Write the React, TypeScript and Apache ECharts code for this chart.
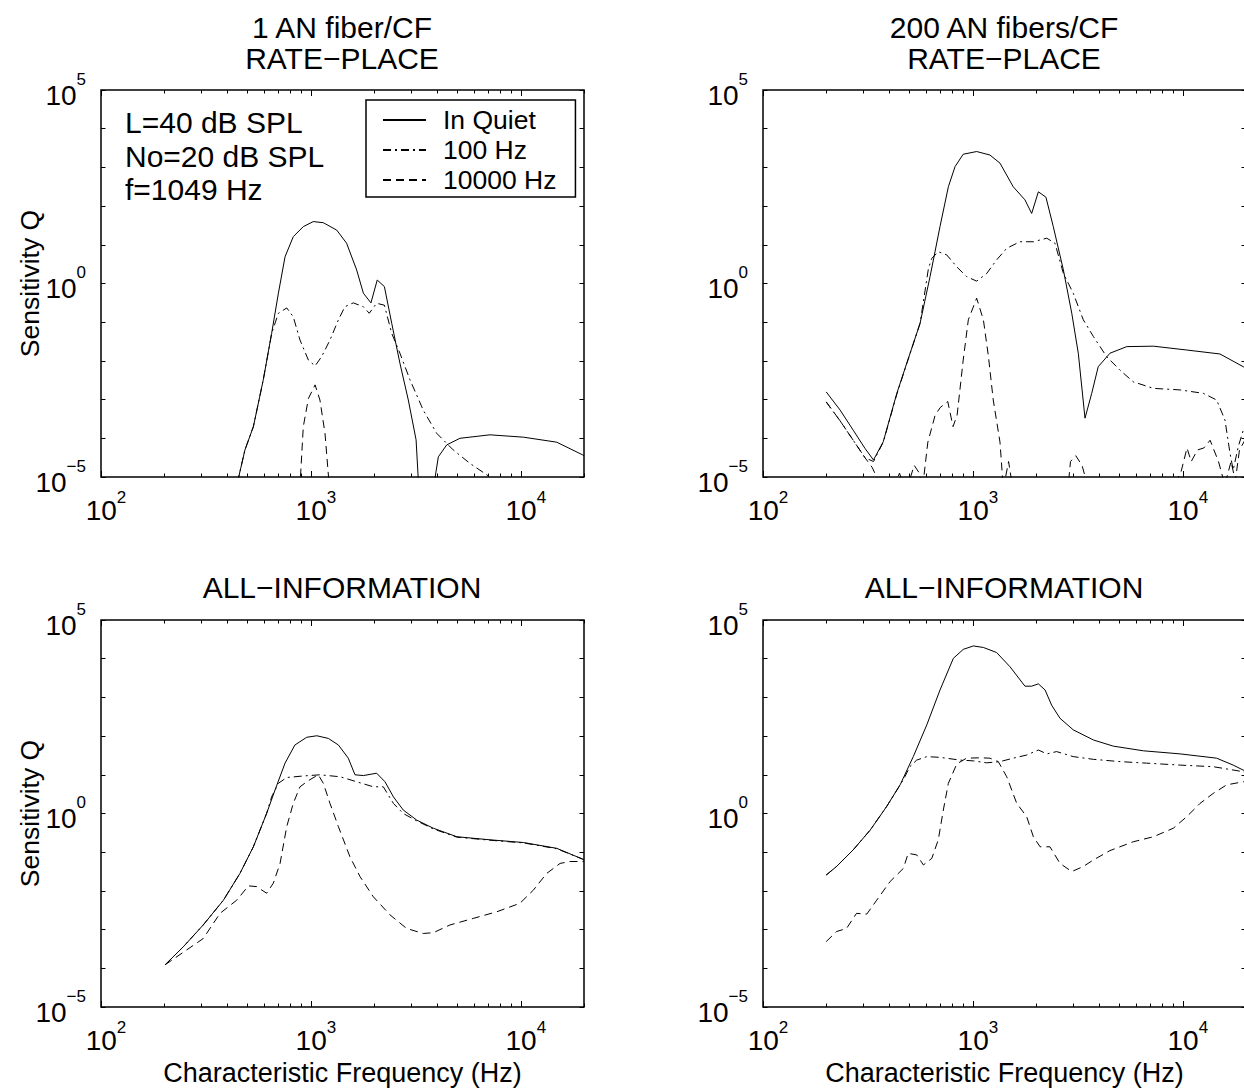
import React, { useEffect, useRef } from "react";
import * as echarts from "echarts";

const FONT = "'Liberation Sans', Arial, Helvetica, sans-serif";

// ---- texts ----
const panelTitles = ["1 AN fiber/CF\nRATE−PLACE", "200 AN fibers/CF\nRATE−PLACE", "ALL−INFORMATION", "ALL−INFORMATION"];
const legendNames = ["In Quiet", "100 Hz", "10000 Hz"];
const annotationLines = ["L=40 dB SPL", "No=20 dB SPL", "f=1049 Hz"];
const xAxisTitle = "Characteristic Frequency (Hz)";
const yAxisTitle = "Sensitivity Q";

// ---- ticks ----
const xMajorTicks = [100, 1000, 10000];
const xMinorTicks = [200, 300, 400, 500, 600, 700, 800, 900, 2000, 3000, 4000, 5000, 6000, 7000, 8000, 9000, 20000];
const yTicks = [1e-5, 1e-4, 1e-3, 1e-2, 1e-1, 1, 10, 100, 1000, 1e4, 1e5];
const yLabelTicks = [1e-5, 1, 1e5];

// ---- data: [characteristic frequency (Hz), sensitivity Q] ----
// Top-left: RATE-PLACE, 1 AN fiber/CF
const rateOneQuiet = [
  [427, 2.5e-6], [485, 5.0e-5], [532, 2.0e-4], [593, 3.24e-3], [650, 5.13e-2], [700, 0.562], [753, 4.9],
  [824, 16.2], [920, 29.5], [1026, 39.8], [1146, 37.2], [1327, 24.0], [1479, 11.0], [1652, 2.24], [1778, 0.562],
  [1932, 0.316], [2070, 1.23], [2239, 0.832], [2427, 9.33e-2], [2655, 8.71e-3], [2911, 9.77e-4], [3170, 9.12e-5],
  [3400, 1e-7], [3660, 1e-6], [4046, 3.31e-5], [4436, 6.76e-5], [5129, 1.0e-4], [7129, 1.23e-4], [10280, 1.07e-4],
  [14825, 7.94e-5], [19724, 3.72e-5], [20000, 3.5e-5],
];
const rateOneNoise100 = [
  [427, 2.5e-6], [485, 5.0e-5], [532, 2.0e-4], [593, 3.24e-3], [650, 5.13e-2], [700, 0.17], [767, 0.234],
  [824, 0.138], [887, 3.47e-2], [973, 1.05e-2], [1047, 7.41e-3], [1125, 1.29e-2], [1233, 3.47e-2], [1352, 0.115],
  [1452, 0.251], [1592, 0.316], [1778, 0.251], [1897, 0.17], [2056, 0.309], [2239, 0.275], [2427, 5.13e-2],
  [2655, 1.58e-2], [2965, 3.24e-3], [3428, 5.37e-4], [3972, 1.35e-4], [4764, 5.01e-5], [5728, 2.24e-5],
  [7129, 1.0e-5], [10000, 2e-6], [20000, 1e-7],
];
const rateOneNoise10k = [
  [850, 1e-7], [920, 2.0e-4], [973, 1.07e-3], [1047, 2.4e-3], [1104, 9.77e-4], [1167, 1.35e-4], [1300, 1e-7],
];

// Top-right: RATE-PLACE, 200 AN fibers/CF
const rateManyQuiet = [
  [200, 1.58e-3], [233, 5.37e-4], [269, 1.62e-4], [306, 5.5e-5], [336, 2.75e-5], [374, 8.13e-5], [434, 1.45e-3],
  [484, 8.71e-3], [560, 9.33e-2], [625, 1.51], [697, 29.5], [764, 316], [822, 1047], [899, 2188], [1042, 2570],
  [1205, 2089], [1346, 1288], [1556, 316], [1770, 145], [1905, 64.6], [2051, 234], [2228, 170], [2415, 29.5],
  [2698, 2.24], [2958, 0.17], [3177, 1.58e-2], [3420, 3.31e-4], [3681, 1.45e-3], [3954, 7.08e-3], [4498, 1.58e-2],
  [5408, 2.34e-2], [7244, 2.4e-2], [10447, 1.91e-2], [15031, 1.51e-2], [19409, 7.08e-3], [20000, 6.3e-3],
];
const rateManyNoise100 = [
  [200, 8.71e-4], [233, 2.82e-4], [269, 8.91e-5], [306, 3.16e-5], [336, 2.51e-5], [374, 7.94e-5], [434, 1.38e-3],
  [484, 8.51e-3], [560, 9.33e-2], [614, 2.45], [637, 4.47], [684, 6.61], [750, 5.5], [838, 2.69], [933, 1.51],
  [1042, 1.15], [1164, 1.82], [1297, 4.07], [1449, 8.13], [1675, 12.0], [1941, 12.0], [2249, 14.8], [2460, 11.0],
  [2698, 1.82], [3006, 0.562], [3357, 0.115], [3750, 4.27e-2], [4335, 1.29e-2], [5023, 5.75e-3], [5808, 2.88e-3],
  [7244, 1.95e-3], [9705, 1.78e-3], [12531, 1.45e-3], [14488, 9.77e-4], [15885, 2.95e-4], [16788, 4.07e-5],
  [17378, 1.51e-5], [18365, 6.03e-5], [19409, 1.62e-4], [20000, 2.0e-4],
];
const rateManyNoise10k = [
  [200, 8.71e-4], [233, 2.82e-4], [269, 8.91e-5], [306, 3.16e-5], [331, 1.78e-5], [355, 7.94e-6], [398, 2.5e-6],
  [447, 1.26e-5], [479, 4e-6], [525, 2.0e-5], [556, 1.26e-5], [575, 5e-6], [610, 7.94e-5], [661, 3.98e-4],
  [700, 6.31e-4], [759, 8.91e-4], [804, 2.0e-4], [841, 3.98e-4], [899, 1.05e-2], [951, 0.115], [1042, 0.417],
  [1122, 0.115], [1186, 1.29e-2], [1250, 9.77e-4], [1346, 7.94e-5], [1396, 5e-6], [1479, 2.51e-5], [1549, 5e-6],
  [1995, 1e-6], [2754, 1e-6], [2917, 2.51e-5], [3090, 3.55e-5], [3311, 2.0e-5], [3548, 5e-6], [6310, 1e-6],
  [8913, 5e-6], [9772, 1.26e-5], [10471, 5.62e-5], [10965, 2.51e-5], [11749, 5.01e-5], [12589, 5.62e-5],
  [13490, 8.91e-5], [14791, 2.51e-5], [15849, 6.31e-6], [16982, 2.51e-5], [17783, 7.94e-6], [18621, 5.01e-5],
  [20000, 1.0e-4],
];

// Bottom-left: ALL-INFORMATION, 1 AN fiber/CF
const allOneQuiet = [
  [202, 1.23e-4], [247, 3.63e-4], [307, 1.32e-3], [383, 5.75e-3], [459, 2.82e-2], [532, 0.138], [615, 1.0],
  [675, 4.07], [753, 20.0], [839, 58.9], [955, 93.3], [1067, 102], [1211, 87.1], [1352, 58.9], [1507, 26.9],
  [1622, 10.0], [1778, 9.55], [2056, 11.0], [2254, 6.61], [2472, 2.69], [2754, 1.23], [3192, 0.676], [3828, 0.417],
  [4955, 0.251], [7129, 0.209], [10280, 0.178], [14825, 0.126], [19724, 6.61e-2], [20000, 6.3e-2],
];
const allOneNoise100 = [
  [202, 1.23e-4], [247, 3.63e-4], [307, 1.32e-3], [383, 5.75e-3], [459, 2.82e-2], [532, 0.138], [615, 1.0],
  [650, 2.69], [700, 6.03], [767, 8.51], [920, 9.33], [1104, 10.0], [1377, 8.91], [1652, 6.61], [1982, 4.9],
  [2213, 4.9], [2472, 1.82], [2754, 1.0], [3192, 0.646], [3828, 0.4], [4955, 0.245], [7129, 0.204], [10280, 0.174],
  [14825, 0.123], [19724, 6.61e-2], [20000, 6.3e-2],
];
const allOneNoise10k = [
  [202, 1.23e-4], [307, 5.89e-4], [369, 2.63e-3], [443, 5.75e-3], [504, 1.35e-2], [552, 1.29e-2], [615, 8.71e-3],
  [662, 1.58e-2], [713, 5.13e-2], [767, 0.457], [824, 1.82], [887, 4.9], [973, 7.08], [1084, 10.0], [1146, 6.03],
  [1233, 1.82], [1352, 0.457], [1535, 7.59e-2], [1714, 2.34e-2], [1982, 7.08e-3], [2382, 2.4e-3], [2858, 1.07e-3],
  [3428, 7.94e-4], [3828, 8.32e-4], [4603, 1.32e-3], [5943, 1.95e-3], [7674, 2.88e-3], [9908, 4.79e-3],
  [11482, 1.05e-2], [13274, 2.82e-2], [15382, 5.13e-2], [17140, 5.75e-2], [19724, 5.75e-2], [20000, 5.75e-2],
];

// Bottom-right: ALL-INFORMATION, 200 AN fibers/CF
const allManyQuiet = [
  [200, 2.57e-2], [224, 4.27e-2], [269, 0.115], [324, 0.372], [388, 1.51], [450, 5.5], [520, 29.5], [603, 195],
  [697, 1549], [807, 10233], [899, 17378], [1005, 21380], [1122, 19498], [1297, 14454], [1503, 6166], [1770, 1950],
  [1905, 1950], [2051, 2239], [2208, 1549], [2371, 631], [2600, 288], [3006, 145], [3750, 79.4], [4667, 55.0],
  [6486, 41.7], [9705, 34.7], [14488, 26.9], [17378, 17.8], [19409, 13.2], [20000, 12.6],
];
const allManyNoise100 = [
  [200, 2.57e-2], [224, 4.27e-2], [269, 0.115], [324, 0.372], [388, 1.51], [450, 5.5], [466, 7.41], [501, 16.2],
  [540, 24.0], [603, 29.5], [697, 28.2], [869, 24.0], [1005, 22.9], [1164, 20.4], [1346, 21.9], [1556, 26.9],
  [1803, 32.4], [2051, 43.7], [2249, 34.7], [2506, 39.8], [3006, 29.5], [3750, 25.1], [5023, 21.9], [6730, 20.0],
  [9705, 17.8], [13964, 16.2], [19409, 12.0], [20000, 11.5],
];
const allManyNoise10k = [
  [200, 4.9e-4], [224, 8.91e-4], [250, 1.07e-3], [279, 2.63e-3], [312, 2.51e-3], [348, 5.75e-3], [403, 1.74e-2],
  [466, 3.8e-2], [492, 9.33e-2], [540, 8.51e-2], [581, 4.68e-2], [637, 6.92e-2], [684, 0.209], [723, 1.23],
  [764, 6.03], [838, 19.1], [933, 26.9], [1081, 27.5], [1205, 26.9], [1321, 21.9], [1449, 8.91], [1618, 1.82],
  [1803, 0.832], [1941, 0.251], [2089, 0.138], [2328, 0.138], [2600, 5.13e-2], [2958, 3.16e-2], [3357, 4.27e-2],
  [3750, 6.31e-2], [4498, 0.11], [5808, 0.186], [7244, 0.251], [9016, 0.417], [10447, 0.832], [12078, 1.82],
  [13964, 3.31], [16181, 5.5], [19409, 6.61], [20000, 6.61],
];

const panelData = [
  [rateOneQuiet, rateOneNoise100, rateOneNoise10k],
  [rateManyQuiet, rateManyNoise100, rateManyNoise10k],
  [allOneQuiet, allOneNoise100, allOneNoise10k],
  [allManyQuiet, allManyNoise100, allManyNoise10k],
];

// ---- layout / style ----
const GRIDS = [
  { left: 101, top: 90 },
  { left: 763, top: 90 },
  { left: 101, top: 620 },
  { left: 763, top: 620 },
];
const GRID_W = 483;
const GRID_H = 387;
const LINE_TYPES: any[] = ["solid", [8, 4, 2, 4], [8, 5]];
const MAIN_SIZE = 30;
const TICK_SIZE = 28;
const EXP_SIZE = 17;

function powerLabel(v: number) {
  const e = Math.round(Math.log10(v));
  const s = e < 0 ? "−" + Math.abs(e) : String(e);
  return "{b|10}{e|" + s + "}";
}

const richX = {
  b: { fontFamily: FONT, fontSize: TICK_SIZE, lineHeight: 26, color: "#000", padding: [26, 0, 0, 10] },
  e: { fontFamily: FONT, fontSize: EXP_SIZE, lineHeight: 16, color: "#000" },
};
const richY = {
  b: { fontFamily: FONT, fontSize: TICK_SIZE, lineHeight: 26, color: "#000", padding: [10, 0, 0, 0] },
  e: { fontFamily: FONT, fontSize: EXP_SIZE, lineHeight: 16, color: "#000", padding: [0, 0, 22, 0] },
};

function buildOption() {
  const tickLine = { color: "#000", width: 1 };
  const xAxes: any[] = [];
  const yAxes: any[] = [];
  GRIDS.forEach((g, gi) => {
    const base = {
      type: "log", logBase: 10, min: 100, max: 20000, gridIndex: gi,
      axisLine: { show: false, onZero: false }, splitLine: { show: false },
      minorTick: { show: false }, minorSplitLine: { show: false },
    };
    const bottomTitle = gi >= 2;
    xAxes.push({
      ...base, position: "bottom",
      name: bottomTitle ? xAxisTitle : "", nameLocation: "middle", nameGap: 54, nameMoveOverlap: false,
      nameTextStyle: { fontFamily: FONT, fontSize: 27, color: "#000", lineHeight: 24 },
      axisTick: { show: true, inside: true, length: 6, customValues: xMajorTicks, lineStyle: tickLine },
      axisLabel: { show: true, customValues: xMajorTicks, margin: 7, formatter: powerLabel, rich: richX },
    });
    xAxes.push({
      ...base, position: "bottom",
      axisTick: { show: true, inside: true, length: 3.5, customValues: xMinorTicks, lineStyle: tickLine },
      axisLabel: { show: false },
    });
    xAxes.push({
      ...base, position: "top",
      axisTick: { show: true, inside: true, length: 6, customValues: xMajorTicks, lineStyle: tickLine },
      axisLabel: { show: false },
    });
    xAxes.push({
      ...base, position: "top",
      axisTick: { show: true, inside: true, length: 3.5, customValues: xMinorTicks, lineStyle: tickLine },
      axisLabel: { show: false },
    });
    const ybase = {
      type: "log", logBase: 10, min: 1e-5, max: 1e5, gridIndex: gi,
      axisLine: { show: false, onZero: false }, splitLine: { show: false },
      minorTick: { show: false }, minorSplitLine: { show: false },
    };
    const leftTitle = gi % 2 === 0;
    yAxes.push({
      ...ybase, position: "left",
      name: leftTitle ? yAxisTitle : "", nameLocation: "middle", nameGap: 56, nameRotate: 90, nameMoveOverlap: false,
      nameTextStyle: { fontFamily: FONT, fontSize: 26.5, color: "#000", lineHeight: 30 },
      axisTick: { show: true, inside: true, length: 4.5, customValues: yTicks, lineStyle: tickLine },
      axisLabel: { show: true, customValues: yLabelTicks, margin: 15, formatter: powerLabel, rich: richY },
    });
    yAxes.push({
      ...ybase, position: "right",
      axisTick: { show: true, inside: true, length: 4.5, customValues: yTicks, lineStyle: tickLine },
      axisLabel: { show: false },
    });
  });

  const series: any[] = [];
  panelData.forEach((curves, gi) => {
    curves.forEach((data, ci) => {
      series.push({
        type: "line",
        name: legendNames[ci],
        xAxisIndex: gi * 4,
        yAxisIndex: gi * 2,
        data,
        symbol: "none",
        showSymbol: false,
        clip: true,
        silent: true,
        emphasis: { disabled: true },
        lineStyle: { color: "#000", width: 1, type: LINE_TYPES[ci] },
        itemStyle: { color: "#000" },
      });
    });
  });

  const titleCenters = [342, 1004, 342, 1004];
  const titleTops = [12, 12, 572, 572];
  const titles: any[] = panelTitles.map((t, i) => ({
    text: t,
    left: titleCenters[i],
    top: titleTops[i],
    textAlign: "center",
    padding: 0,
    textStyle: { fontFamily: FONT, fontSize: MAIN_SIZE, fontWeight: "normal", color: "#000", lineHeight: 31 },
  }));
  titles.push({
    text: annotationLines.join("\n"),
    left: 125,
    top: 106,
    padding: 0,
    textStyle: { fontFamily: FONT, fontSize: MAIN_SIZE, fontWeight: "normal", color: "#000", lineHeight: 33.5 },
  });

  return {
    animation: false,
    backgroundColor: "#fff",
    title: titles,
    legend: {
      data: legendNames,
      orient: "vertical",
      left: 366,
      top: 100,
      itemWidth: 43,
      itemHeight: 14,
      itemGap: 0,
      padding: [5, 19, 2, 16],
      borderColor: "#000",
      borderWidth: 1.5,
      backgroundColor: "#fff",
      selectedMode: false,
      itemStyle: { opacity: 0 },
      textStyle: { fontFamily: FONT, fontSize: 26.5, color: "#000", lineHeight: 30, padding: [0, 0, 0, 12] },
    },
    grid: GRIDS.map((g) => ({
      left: g.left, top: g.top, width: GRID_W, height: GRID_H,
      show: true, borderColor: "#000", borderWidth: 1.5, backgroundColor: "transparent",
      containLabel: false, outerBoundsMode: "none",
    })),
    xAxis: xAxes,
    yAxis: yAxes,
    series,
  };
}

export default function App() {
  const ref = useRef<HTMLDivElement>(null);
  useEffect(() => {
    document.body.style.margin = "0";
    const chart = echarts.init(ref.current as HTMLDivElement, undefined, { renderer: "svg", width: 1244, height: 1089 });
    chart.setOption(buildOption() as any);
    return () => chart.dispose();
  }, []);
  return <div ref={ref} style={{ position: "absolute", left: 0, top: 0, width: 1244, height: 1089, background: "#fff" }} />;
}
